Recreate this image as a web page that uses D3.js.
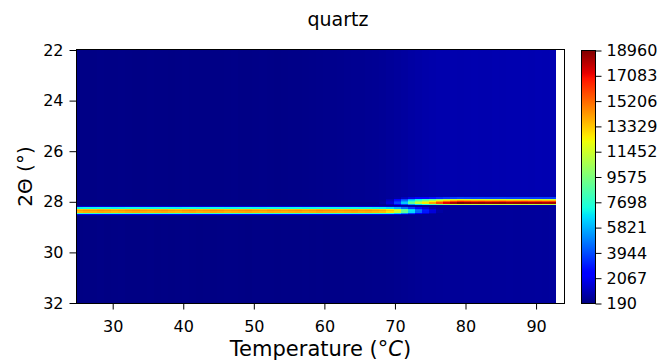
<!DOCTYPE html>
<html>
<head>
<meta charset="utf-8">
<script src="https://cdn.jsdelivr.net/npm/d3@7"></script>
<style>
  body { margin: 0; background: #fff; }
  text { font-family: "DejaVu Sans", sans-serif; fill: #000; }
</style>
</head>
<body>
<div id="chart"></div>
<script>
// --- Data ---
const temps = [
  25, 26, 27, 28, 29, 30, 31, 32, 33, 34,
  35, 36, 37, 38, 39, 40, 41, 42, 43, 44,
  45, 46, 47, 48, 49, 50, 51, 52, 53, 54,
  55, 56, 57, 58, 59, 60, 61, 62, 63, 64,
  65, 66, 67, 68, 69, 70, 71, 72, 73, 74,
  75, 76, 77, 78, 79, 80, 81, 82, 83, 84,
  85, 86, 87, 88, 89, 90, 91, 92
];

// 2-theta sampling of the scan
const thetaMin = 22, thetaMax = 32, thetaStep = 0.05;

// peak centres (degrees 2theta): low-temperature and high-temperature phase
const alphaPos = 28.35;
const betaPos = 28.05;

// peak height (counts) per temperature
const alphaHeight = [
  14200, 14400, 14300, 14500, 14400, 14200, 14300, 14500, 14600, 14400,
  14300, 14400, 14500, 14300, 14200, 14400, 14500, 14300, 14400, 14600,
  14500, 14300, 14400, 14500, 14600, 14400, 14300, 14500, 14400, 14300,
  14400, 14500, 14300, 14400, 14600, 14500, 14400, 14300, 14400, 14500,
  14300, 14400, 14200, 14000, 13300, 11800, 9200, 6800, 4600, 3000,
  1700, 800, 300, 0, 0, 0, 0, 0, 0, 0,
  0, 0, 0, 0, 0, 0, 0, 0
];
const betaHeight = [
  0, 0, 0, 0, 0, 0, 0, 0, 0, 0,
  0, 0, 0, 0, 0, 0, 0, 0, 0, 0,
  0, 0, 0, 0, 0, 0, 0, 0, 0, 0,
  0, 0, 0, 0, 0, 0, 0, 0, 0, 0,
  0, 0, 200, 700, 1600, 3800, 6200, 9000, 11200, 12600,
  14000, 15800, 17300, 18200, 18960, 18700, 18500, 18600, 18400, 18500,
  18600, 18300, 18400, 18500, 18300, 18400, 18200, 18300
];

// relative peak shape, one value per 2theta step around the centre
const alphaShape = [0.03, 0.12, 0.5, 0.93, 1.0, 0.96, 0.55, 0.15, 0.04];  // offsets -4..+4
const betaShape = [0.06, 0.2, 0.62, 0.74, 0.88, 1.0, 0.6, 0.05];         // offsets -5..+2

// background counts per temperature, above (low 2theta) and below the peak
const bgAbove = [
  290, 300, 280, 310, 290, 300, 310, 290, 280, 300,
  310, 290, 300, 280, 300, 310, 300, 290, 300, 290,
  300, 310, 320, 300, 290, 310, 320, 310, 300, 310,
  320, 330, 350, 360, 380, 390, 410, 430, 450, 470,
  480, 500, 530, 560, 600, 650, 700, 760, 820, 870,
  900, 920, 930, 940, 930, 950, 960, 940, 950, 970,
  960, 980, 970, 990, 980, 1000, 990, 1010
];
const bgBelow = [
  270, 280, 260, 290, 270, 280, 290, 270, 260, 280,
  290, 270, 280, 260, 280, 290, 280, 270, 280, 270,
  280, 290, 300, 280, 270, 290, 300, 290, 280, 290,
  300, 290, 310, 300, 310, 300, 320, 330, 340, 350,
  340, 360, 370, 380, 400, 430, 460, 490, 520, 550,
  560, 570, 580, 590, 580, 600, 610, 600, 610, 620,
  620, 630, 620, 640, 630, 650, 640, 660
];

const xTicks = [30, 40, 50, 60, 70, 80, 90];
const yTicks = [22, 24, 26, 28, 30, 32];
const cbarTicks = [190, 2067, 3944, 5821, 7698, 9575, 11452, 13329, 15206, 17083, 18960];

// --- Layout ---
const width = 662, height = 361;
const plot = { left: 76, right: 565, top: 50, bottom: 303 };
const cbar = { left: 581, right: 595 };

const svg = d3.select("#chart").append("svg")
  .attr("width", width)
  .attr("height", height);

const x = d3.scaleLinear().domain([24.8, 94.1]).range([plot.left, plot.right]);
const y = d3.scaleLinear().domain([thetaMin, thetaMax]).range([plot.top, plot.bottom]);
const cy = d3.scaleLinear().domain([190, 18960]).range([plot.bottom, plot.top]);

// matplotlib "jet"
const jetR = d3.scaleLinear().domain([0, 0.35, 0.66, 0.89, 1]).range([0, 0, 1, 1, 0.5]).clamp(true);
const jetG = d3.scaleLinear().domain([0, 0.125, 0.375, 0.64, 0.91, 1]).range([0, 0, 1, 1, 0, 0]).clamp(true);
const jetB = d3.scaleLinear().domain([0, 0.11, 0.34, 0.65, 1]).range([0.5, 1, 1, 0, 0]).clamp(true);
const norm = d3.scaleLinear().domain([190, 18960]).range([0, 1]).clamp(true);
const jet = t => d3.rgb(jetR(t) * 255, jetG(t) * 255, jetB(t) * 255).formatHex();

// --- Cells ---
const nRows = Math.round((thetaMax - thetaMin) / thetaStep) + 1;
const cells = [];
temps.forEach((T, i) => {
  for (let j = 0; j < nRows; j++) {
    const th = thetaMin + j * thetaStep;
    const bg = th < betaPos ? bgAbove[i] : bgBelow[i];
    let peak = 0;
    const ka = Math.round((th - alphaPos) / thetaStep);
    if (ka >= -4 && ka <= 4) peak += alphaHeight[i] * alphaShape[ka + 4];
    const kb = Math.round((th - betaPos) / thetaStep);
    if (kb >= -5 && kb <= 2) peak += betaHeight[i] * betaShape[kb + 5];
    cells.push({ T: T, th: th, v: Math.min(18960, Math.max(bg, peak)) });
  }
});

svg.append("g")
  .selectAll("rect")
  .data(cells)
  .join("rect")
  .attr("x", d => Math.round(x(d.T - 0.2)))
  .attr("width", d => Math.round(x(d.T + 0.8)) - Math.round(x(d.T - 0.2)))
  .attr("y", d => Math.round(y(Math.max(thetaMin, d.th - thetaStep / 2))))
  .attr("height", d => Math.round(y(Math.min(thetaMax, d.th + thetaStep / 2))) - Math.round(y(Math.max(thetaMin, d.th - thetaStep / 2))))
  .attr("fill", d => jet(norm(d.v)))
  .attr("shape-rendering", "crispEdges");

// frame
svg.append("rect")
  .attr("x", plot.left + 0.5)
  .attr("y", plot.top - 0.5)
  .attr("width", plot.right - plot.left - 1)
  .attr("height", plot.bottom - plot.top + 1)
  .attr("fill", "none")
  .attr("stroke", "#000")
  .attr("stroke-width", 1);

// --- Axes ---
const xAxis = svg.append("g")
  .attr("transform", `translate(0,${plot.bottom + 0.5})`)
  .call(d3.axisBottom(x).tickValues(xTicks).tickSize(6).tickPadding(11));
const yAxis = svg.append("g")
  .attr("transform", `translate(${plot.left + 0.5},0)`)
  .call(d3.axisLeft(y).tickValues(yTicks).tickSize(7).tickPadding(6));

[xAxis, yAxis].forEach(g => {
  g.select(".domain").remove();
  g.selectAll("text").attr("font-size", 16).attr("font-family", "DejaVu Sans").attr("fill", "#000");
  g.selectAll("line").attr("stroke", "#000");
});

// --- Colorbar ---
const grad = svg.append("defs").append("linearGradient")
  .attr("id", "jetgrad")
  .attr("x1", 0).attr("y1", 1).attr("x2", 0).attr("y2", 0);
grad.selectAll("stop")
  .data(d3.range(0, 1.0001, 0.01))
  .join("stop")
  .attr("offset", d => d)
  .attr("stop-color", d => jet(d));

svg.append("rect")
  .attr("x", cbar.left + 0.5)
  .attr("y", plot.top + 0.5)
  .attr("width", cbar.right - cbar.left)
  .attr("height", plot.bottom - plot.top)
  .attr("fill", "url(#jetgrad)")
  .attr("stroke", "#000")
  .attr("stroke-width", 1);

const cAxis = svg.append("g")
  .attr("transform", `translate(${cbar.right + 0.5},0.5)`)
  .call(d3.axisRight(cy).tickValues(cbarTicks).tickSize(6).tickPadding(5).tickFormat(d => d));
cAxis.select(".domain").remove();
cAxis.selectAll("text").attr("font-size", 16).attr("font-family", "DejaVu Sans").attr("fill", "#000");
cAxis.selectAll("line").attr("stroke", "#000");

// --- Labels ---
svg.append("text")
  .attr("x", 338)
  .attr("y", 26)
  .attr("text-anchor", "middle")
  .attr("font-size", 19)
  .text("quartz");

const xl = svg.append("text")
  .attr("x", (plot.left + plot.right) / 2)
  .attr("y", 356)
  .attr("text-anchor", "middle")
  .attr("font-size", 21);
xl.append("tspan").text("Temperature (°");
xl.append("tspan").attr("font-style", "italic").text("C");
xl.append("tspan").text(")");

svg.append("text")
  .attr("transform", `translate(32,${(plot.top + plot.bottom) / 2}) rotate(-90)`)
  .attr("text-anchor", "middle")
  .attr("font-size", 20)
  .text("2Θ (°)");
</script>
</body>
</html>
